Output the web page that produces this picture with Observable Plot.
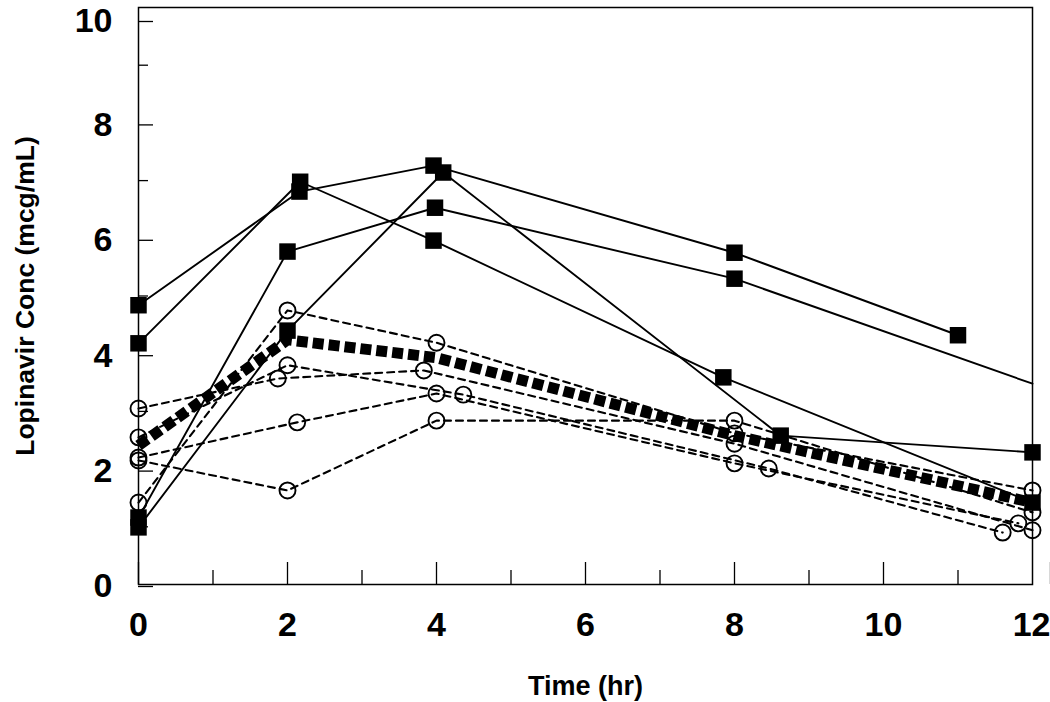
<!DOCTYPE html>
<html><head><meta charset="utf-8">
<script src="https://cdn.jsdelivr.net/npm/d3@7"></script>
<script src="https://cdn.jsdelivr.net/npm/@observablehq/plot@0.6"></script>
<style>
html,body{margin:0;padding:0;background:#fff;}
#chart svg{display:block;}
</style>
</head><body><div id="chart"></div>
<script>
// Solid-line subjects (filled squares)
const solidSubjects = ["S1", "S2", "S3", "S4"];
const solidTime = [
  [0, 2.17, 3.96, 7.85, 12],
  [0, 2.16, 3.96, 8, 11],
  [0, 2, 3.98, 8, 12],
  [0, 2, 4.09, 8.62, 12]
];
const solidConc = [
  [4.18, 6.98, 5.96, 3.59, 1.42],
  [4.84, 6.81, 7.26, 5.75, 4.32],
  [1.16, 5.77, 6.53, 5.30, 3.48],
  [0.99, 4.40, 7.14, 2.58, 2.29]
];
const solidMarked = [
  [1, 1, 1, 1, 1],
  [1, 1, 1, 1, 1],
  [1, 1, 1, 1, 0],
  [1, 1, 1, 1, 1]
];

// Dashed-line subjects (open circles)
const dashedSubjects = ["C1", "C2", "C3", "C4", "C5"];
const dashedTime = [
  [0, 2, 4, 8, 12],
  [0, 1.87, 3.83, 8, 12],
  [0, 2, 4.36, 8.46, 11.6],
  [0, 2.13, 4, 8, 11.81],
  [0, 2, 4, 8, 12]
];
const dashedConc = [
  [1.42, 4.75, 4.19, 2.62, 1.63],
  [3.05, 3.57, 3.71, 2.44, 0.94],
  [2.55, 3.80, 3.29, 2.01, 0.90],
  [2.20, 2.81, 3.31, 2.10, 1.06],
  [2.15, 1.63, 2.84, 2.84, 1.25]
];

// Thick dashed (mean) profile
const meanTime = [0, 2, 4, 8, 12];
const meanConc = [2.41, 4.24, 3.93, 2.58, 1.42];

// Axes
const xMajorTicks = [0, 2, 4, 6, 8, 10, 12];
const xMinorTicks = [1, 3, 5, 7, 9, 11];
const yMajorTicks = [0, 2, 4, 6, 8, 10];
const yMinorTicks = [1, 3, 5, 7, 9];
const xLabel = "Time (hr)";
const yLabel = "Lopinavir Conc (mcg/mL)";

const solidRows = solidSubjects.flatMap((id, i) =>
  solidTime[i].map((t, j) => ({id, t, c: solidConc[i][j], marked: solidMarked[i][j] === 1})));
const dashedRows = dashedSubjects.flatMap((id, i) =>
  dashedTime[i].map((t, j) => ({id, t, c: dashedConc[i][j]})));
const meanRows = meanTime.map((t, j) => ({t, c: meanConc[j]}));

const font = "Arial, 'Liberation Sans', Helvetica, sans-serif";
const yTop = d3.max(yMajorTicks);
const xEnd = d3.max(xMajorTicks);
const yLabelOpts = {anchor: "left", tickSize: -15, tickPadding: 41, strokeWidth: 1.3,
  fontSize: 34, fontWeight: "bold", label: null, tickFormat: d => String(d)};
const xLabelOpts = {anchor: "bottom", tickSize: -22, tickPadding: 49, strokeWidth: 1.3,
  fontSize: 34, fontWeight: "bold", label: null, tickFormat: d => String(d)};

const chart = Plot.plot({
  width: 1050,
  height: 702,
  marginLeft: 138,
  marginRight: 18,
  marginTop: 7,
  marginBottom: 118,
  style: {fontFamily: font, color: "black", background: "white"},
  x: {domain: [0, 12], axis: null},
  y: {domain: [0, 10], axis: null},
  marks: [
    Plot.frame({stroke: "black", strokeWidth: 1.5}),
    // y axis (top label nudged down so it stays inside the picture)
    Plot.axisY(yMajorTicks.filter(d => d < yTop), {...yLabelOpts, dy: 2}),
    Plot.axisY(yMajorTicks.filter(d => d === yTop), {...yLabelOpts, dy: 14}),
    Plot.axisY(yMinorTicks, {anchor: "left", tickSize: -10, strokeWidth: 1.3, tickFormat: () => "", label: null}),
    // x axis (last label nudged left so it stays inside the picture)
    Plot.axisX(xMajorTicks.filter(d => d < xEnd), xLabelOpts),
    Plot.axisX(xMajorTicks.filter(d => d === xEnd), {...xLabelOpts, textAnchor: "end", dx: 18}),
    Plot.axisX(xMinorTicks, {anchor: "bottom", tickSize: -14, strokeWidth: 1.3, tickFormat: () => "", label: null}),
    // axis titles
    Plot.text([yLabel], {frameAnchor: "left", text: d => d, rotate: -90, dx: -113,
      fontSize: 26.5, fontWeight: "bold", textAnchor: "middle", lineAnchor: "middle"}),
    Plot.text([xLabel], {frameAnchor: "bottom", text: d => d, dy: 102,
      fontSize: 27, fontWeight: "bold", textAnchor: "middle", lineAnchor: "middle"}),
    // dashed subjects
    Plot.line(dashedRows, {x: "t", y: "c", z: "id", stroke: "black", strokeWidth: 2.1,
      strokeDasharray: "7,5", curve: "linear"}),
    Plot.dot(dashedRows, {x: "t", y: "c", symbol: "circle", r: 8, fill: "none",
      stroke: "black", strokeWidth: 1.9}),
    // mean
    Plot.line(meanRows, {x: "t", y: "c", stroke: "black", strokeWidth: 11,
      strokeDasharray: "11,5", strokeLinecap: "butt", strokeLinejoin: "miter"}),
    // solid subjects
    Plot.line(solidRows, {x: "t", y: "c", z: "id", stroke: "black", strokeWidth: 1.9}),
    Plot.dot(solidRows.filter(d => d.marked), {x: "t", y: "c", symbol: "square", r: 9.3,
      fill: "black", stroke: "none"})
  ]
});
document.getElementById("chart").appendChild(chart);
</script>
</body></html>
